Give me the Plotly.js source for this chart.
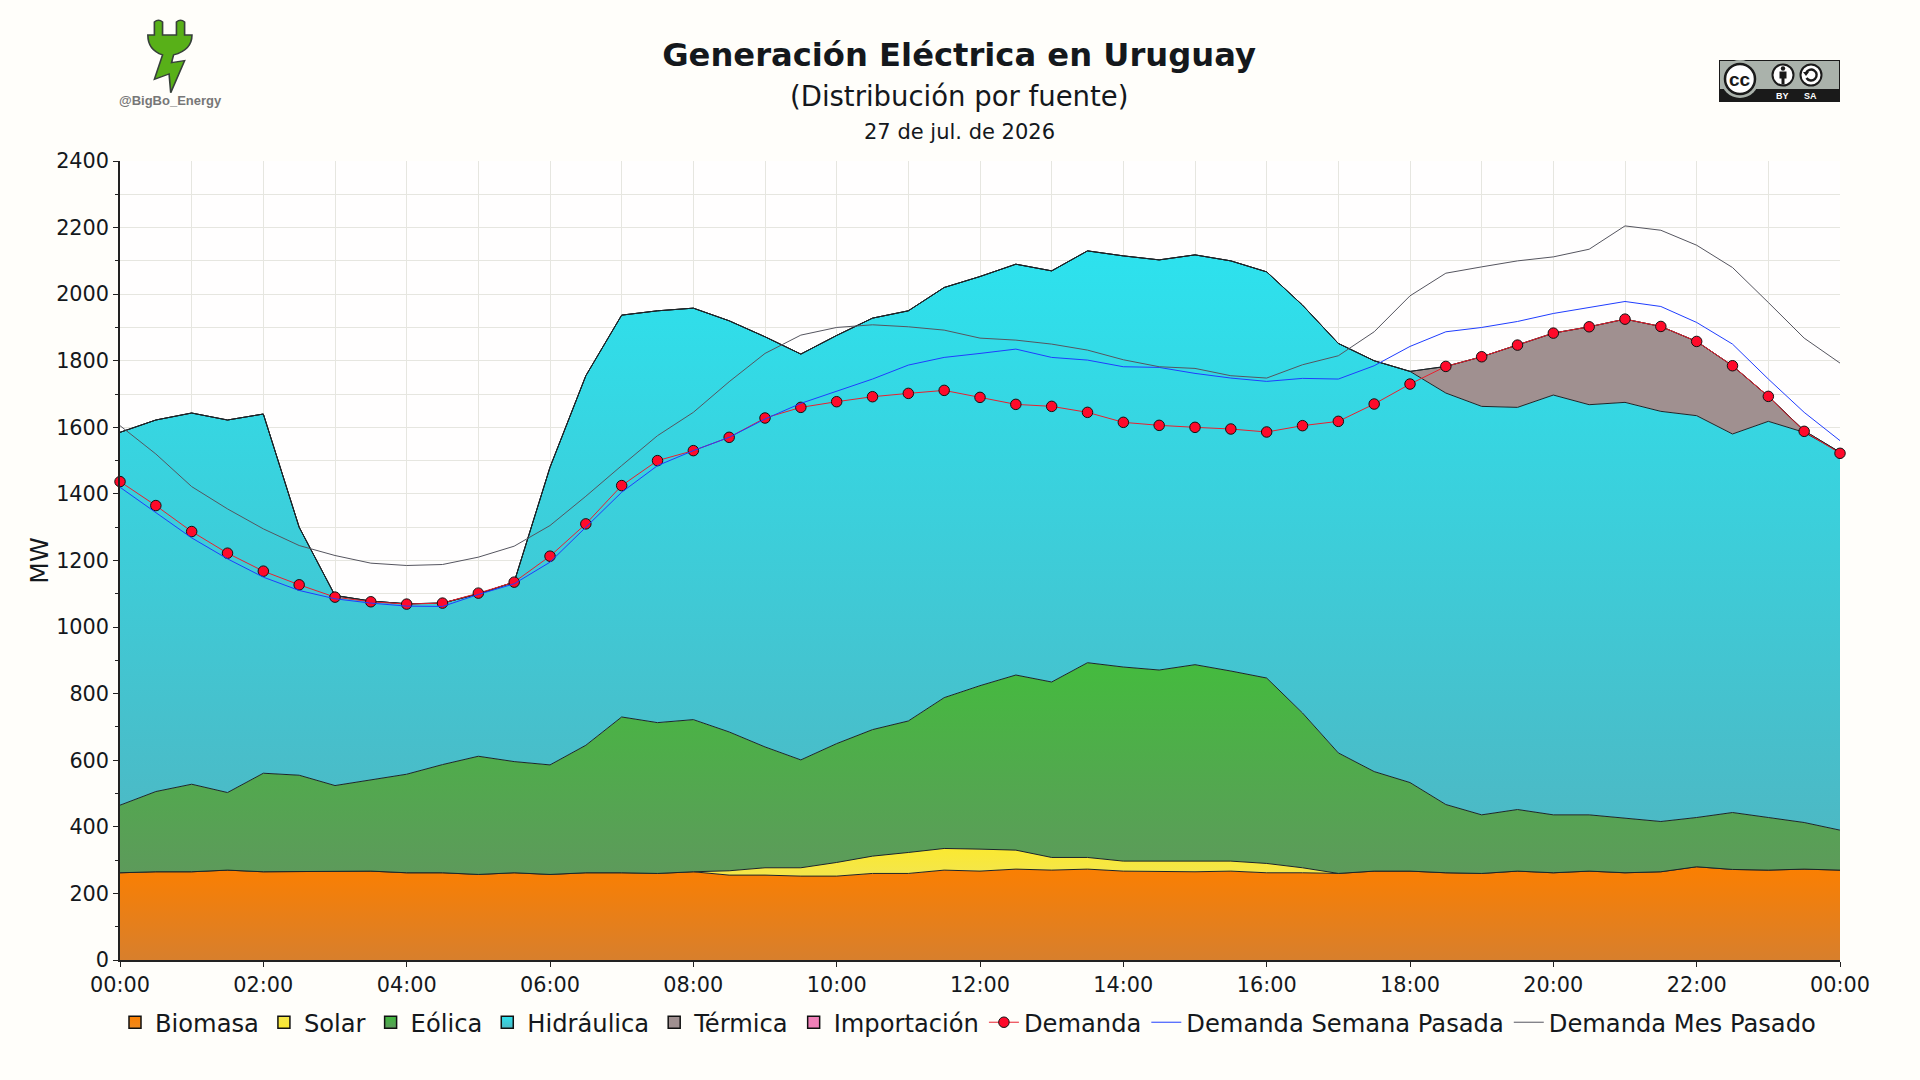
<!DOCTYPE html>
<html><head><meta charset="utf-8">
<script src="https://cdn.plot.ly/plotly-3.0.1.min.js"></script>
<style>html,body{margin:0;padding:0;background:#fffefa;overflow:hidden}#c{width:1920px;height:1080px}</style>
</head><body><div id="c"></div>
<script>
const horas = ["00:00","00:30","01:00","01:30","02:00","02:30","03:00","03:30","04:00","04:30","05:00","05:30","06:00","06:30","07:00","07:30","08:00","08:30","09:00","09:30","10:00","10:30","11:00","11:30","12:00","12:30","13:00","13:30","14:00","14:30","15:00","15:30","16:00","16:30","17:00","17:30","18:00","18:30","19:00","19:30","20:00","20:30","21:00","21:30","22:00","22:30","23:00","23:30","24:00"];
const biomasa = [262,265,265,270,265,265,265,267,262,262,257,262,257,262,262,260,265,255,255,252,252,260,260,270,267,273,270,273,267,265,265,267,262,262,260,267,267,262,260,267,262,267,262,265,280,272,270,273,270];
const solar = [0,0,0,0,0,0,0,0,0,0,0,0,0,0,0,0,0,13,22,25,41,52,63,65,66,57,38,35,30,32,32,30,28,15,0,0,0,0,0,0,0,0,0,0,0,0,0,0,0];
const eolica = [203,241,263,233,296,290,259,273,296,325,355,334,329,383,468,453,457,417,363,324,357,380,395,453,491,526,527,585,583,574,590,571,557,465,362,299,266,205,176,185,174,169,163,151,148,171,158,140,120];
const hidraulica = [1120,1116,1115,1119,1079,745,571,538,512,485,488,539,894,1110,1207,1237,1236,1235,1232,1219,1226,1236,1232,1232,1229,1234,1235,1237,1235,1232,1231,1232,1220,1225,1230,1234,1235,1236,1227,1208,1261,1232,1250,1232,1207,1137,1190,1172,1135];
const termica = [0,0,0,0,0,0,0,0,0,0,0,0,0,0,0,0,0,0,0,0,0,0,0,0,0,0,0,0,0,0,0,0,0,0,0,0,0,80,149,187,186,234,250,255,223,205,75,5,0];
const importacion = [0,0,0,0,0,0,0,0,0,0,0,0,0,0,0,0,0,0,0,0,0,0,0,0,0,0,0,0,0,0,0,0,0,0,0,0,0,0,0,0,0,0,0,0,0,0,0,0,0];
const demanda = [1437,1365,1287,1222,1168,1127,1090,1076,1069,1072,1102,1135,1213,1310,1425,1500,1530,1570,1628,1660,1677,1692,1702,1711,1690,1669,1663,1645,1615,1606,1600,1595,1586,1605,1618,1670,1730,1783,1812,1847,1883,1902,1925,1903,1858,1785,1693,1588,1522];
const semanaPasada = [1420,1345,1268,1205,1150,1110,1085,1072,1063,1062,1098,1130,1195,1300,1405,1485,1530,1570,1625,1672,1708,1745,1787,1810,1822,1835,1810,1802,1782,1780,1762,1748,1738,1747,1745,1785,1843,1887,1900,1918,1942,1960,1978,1963,1915,1850,1745,1645,1560];
const mesPasado = [1605,1520,1422,1355,1295,1245,1215,1192,1185,1188,1210,1243,1305,1393,1485,1575,1645,1737,1822,1877,1900,1908,1902,1892,1868,1862,1850,1832,1803,1782,1777,1755,1748,1788,1815,1887,1995,2063,2082,2100,2112,2135,2205,2192,2147,2080,1975,1868,1793];
const xTickLabels = ["00:00","02:00","04:00","06:00","08:00","10:00","12:00","14:00","16:00","18:00","20:00","22:00","00:00"];
const xTickHours = ["00:00","02:00","04:00","06:00","08:00","10:00","12:00","14:00","16:00","18:00","20:00","22:00","24:00"];

const toDate = h => h === "24:00" ? "2026-07-28 00:00" : "2026-07-27 " + h;
const x = horas.map(toDate);
const FONT = "DejaVu Sans";
const W = 1920, H = 1080, L = 120, R = 1840, T = 161, B = 960;
const dark = "#1c2428";
const grid = "#e6e6e0";

function area(name, y, grad, start, stop) {
  return {type:"scatter", mode:"lines", name, x, y, stackgroup:"gen", fill:"tonexty", legendgroup:name, showlegend:false,
    fillgradient:{type:"vertical", start, stop, colorscale:[[0,grad[0]],[1,grad[1]]]},
    line:{color:dark, width:1, shape:"linear"}, hoverinfo:"x+y+name"};
}
// Legend keys: small bordered squares, no data of their own
function key(name, top, bottom) {
  return {type:"scatter", mode:"markers", name, legendgroup:name, x:[null], y:[null], hoverinfo:"skip",
    marker:{symbol:"square", size:12, color:top, gradient:{type:"vertical", color:bottom}, line:{color:"#111", width:1.5}}};
}
const traces = [
  key("Biomasa", "#fa7f02", "#f08a1e"),
  key("Solar", "#f4e64a", "#fbe92f"),
  key("Eólica", "#3fb83c", "#5d9a5b"),
  key("Hidráulica", "#2de2ee", "#4cb9c5"),
  key("Térmica", "#a09090", "#a09090"),
  key("Importación", "#f080b8", "#f080b8"),
  area("Biomasa", biomasa, ["#d87f2c","#fa7f02"], 0, 270),
  area("Solar", solar, ["#f4e64a","#fbe92f"], 260, 340),
  area("Eólica", eolica, ["#5d9a5b","#44bb3e"], 260, 895),
  area("Hidráulica", hidraulica, ["#4cb9c5","#2de2ee"], 400, 2130),
  area("Térmica", termica, ["#a09090","#a09090"], 1500, 1930),
  area("Importación", importacion, ["#f080b8","#f080b8"], 0, 2400),
  {type:"scatter", mode:"lines+markers", name:"Demanda", x, y:demanda, cliponaxis:false,
   line:{color:"#e8202f", width:1}, marker:{color:"#ff0a2a", size:10.5, line:{color:"#111", width:1}}},
  {type:"scatter", mode:"lines", name:"Demanda Semana Pasada", x, y:semanaPasada, line:{color:"#1f3dff", width:1}},
  {type:"scatter", mode:"lines", name:"Demanda Mes Pasado", x, y:mesPasado, line:{color:"#55555f", width:1}}
];

const plug = `<svg xmlns="http://www.w3.org/2000/svg" viewBox="355 55 120 230" preserveAspectRatio="none"><path d="M378 66 Q388 56 398 66 L398 105 L432 105 L432 66 Q442 56 452 66 L452 105 L470 105 Q470 150 425 165 L420 188 L452 182 L418 278 L414 222 L378 238 L398 165 Q362 150 362 105 L378 105 Z" fill="#58b018" stroke="#37403a" stroke-width="4"/></svg>`;
const cc = `<svg xmlns="http://www.w3.org/2000/svg" viewBox="0 0 121 42" preserveAspectRatio="none"><rect x="0" y="0" width="121" height="42" fill="#1a1a1a"/><rect x="1" y="1" width="119" height="28" fill="#aab2ab"/><circle cx="21" cy="19" r="19" fill="#aab2ab"/><circle cx="21" cy="19" r="15" fill="#fff" stroke="#1a1a1a" stroke-width="2.5"/><circle cx="64" cy="15" r="10.5" fill="#fff" stroke="#1a1a1a" stroke-width="2"/><circle cx="64" cy="8.5" r="2.2" fill="#1a1a1a"/><path d="M60.5 11.5 h7 v7 h-2 v6 h-3 v-6 h-2 z" fill="#1a1a1a"/><circle cx="92" cy="15" r="10.5" fill="#fff" stroke="#1a1a1a" stroke-width="2"/><path d="M87 13 a5.5 5.5 0 1 1 0.5 5" fill="none" stroke="#1a1a1a" stroke-width="2.4"/><path d="M84 12 l6 0 l-3 4 z" fill="#1a1a1a"/></svg>`;
const uri = s => "data:image/svg+xml;base64," + btoa(s);
const px = v => (v - L) / (R - L), py = v => (B - v) / (B - T);

function note(text, xp, yp, size, color, extra) {
  return Object.assign({text, xref:"paper", yref:"paper", x:px(xp), y:py(yp), xanchor:"center", yanchor:"middle",
    showarrow:false, font:{family:FONT, size, color}}, extra || {});
}

const layout = {
  width:W, height:H, paper_bgcolor:"#fffefa", plot_bgcolor:"#fffefe",
  margin:{l:L, r:W-R, t:T, b:H-B, pad:0}, font:{family:FONT, size:21, color:"#14181c"},
  title:{text:"<b>Generación Eléctrica en Uruguay</b>", x:0.4995, xanchor:"center", y:1-55/H, yanchor:"middle", font:{family:FONT, size:32.2, color:"#14181c"}},
  showlegend:true,
  legend:{orientation:"h", x:px(968), xanchor:"center", y:py(1000), yanchor:"top", traceorder:"normal", bgcolor:"rgba(0,0,0,0)",
    font:{family:FONT, size:24.2, color:"#14181c"}, itemwidth:30, tracegroupgap:0},
  xaxis:{type:"date", range:[toDate("00:00"), toDate("24:00")], tickmode:"array",
    tickvals:xTickHours.map(toDate), ticktext:xTickLabels, ticks:"outside", ticklen:5, tickcolor:"#222", tickwidth:1,
    showline:true, linecolor:"#222", linewidth:1.5, gridcolor:grid, gridwidth:1, showgrid:true, zeroline:false,
    minor:{dtick:3600000, tick0:toDate("00:00"), showgrid:true, gridcolor:grid, gridwidth:1, ticks:""},
    tickfont:{family:FONT, size:20.8, color:"#14181c"}},
  yaxis:{range:[0,2400], tick0:0, dtick:200, ticks:"outside", ticklen:5, tickcolor:"#222", tickwidth:1, tickformat:"d",
    showline:true, linecolor:"#222", linewidth:1.5, gridcolor:grid, gridwidth:1, zeroline:false,
    minor:{dtick:100, showgrid:true, gridcolor:grid, gridwidth:1, ticks:"outside", ticklen:3, tickcolor:"#222"},
    tickfont:{family:FONT, size:20.8, color:"#14181c"},
    title:{text:"MW", standoff:0, font:{family:FONT, size:25, color:"#14181c"}}},
  annotations:[
    note("(Distribución por fuente)", 959, 96, 27.5, "#14181c"),
    note("27 de jul. de 2026", 959, 132, 21, "#14181c"),
    note("<b>@BigBo_Energy</b>", 170, 100, 13, "#777", {font:{family:"Liberation Sans", size:13, color:"#777"}}),
    note("<b>cc</b>", 1740, 79.5, 17, "#1a1a1a", {font:{family:"Liberation Sans", size:19, color:"#1a1a1a"}}),
    note("<b>BY</b>", 1782, 96, 9, "#fff", {font:{family:"Liberation Sans", size:9, color:"#fff"}}),
    note("<b>SA</b>", 1810, 96, 9, "#fff", {font:{family:"Liberation Sans", size:9, color:"#fff"}})
  ],
  images:[
    {source:uri(plug), xref:"paper", yref:"paper", x:px(145), y:py(18.3), sizex:49/(R-L), sizey:76.7/(B-T), xanchor:"left", yanchor:"top", sizing:"stretch", layer:"above"},
    {source:uri(cc), xref:"paper", yref:"paper", x:px(1719), y:py(60), sizex:121/(R-L), sizey:42/(B-T), xanchor:"left", yanchor:"top", sizing:"stretch", layer:"above"}
  ]
};
Plotly.newPlot("c", traces, layout, {displayModeBar:false, responsive:false});
</script></body></html>
